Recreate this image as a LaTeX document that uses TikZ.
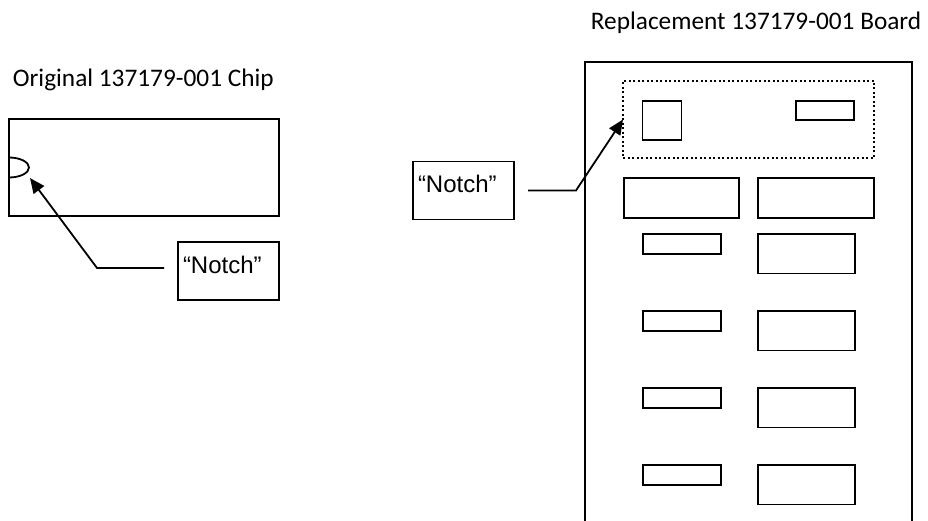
\documentclass[tikz,border=0pt]{standalone}
\usepackage{fontspec}
\setmainfont{Liberation Sans}
\newfontfamily\titlefont{Carlito}
\usetikzlibrary{arrows.meta}

\newcommand{\titlesize}{\titlefont\fontsize{25.3}{30}\selectfont}

\begin{document}
\begin{tikzpicture}[x=1pt, y=-1pt, line width=1.8pt,
    part/.style={draw, rectangle, inner sep=0pt, outer sep=0pt},
    callout/.style={draw, rectangle, inner xsep=5pt, inner ysep=0pt,
        outer sep=0pt, text width=91pt, align=left,
        text height=31pt, text depth=27pt, font=\fontsize{24}{28}\selectfont},
    pointer/.style={-{Triangle[length=15pt, width=13pt]}, line join=miter},
    title/.style={anchor=base west, inner sep=0pt, font=\titlesize}]
    \useasboundingbox (0,0) rectangle (928,521);

    % original chip
    \node[title] (chiptitle) at (12,87) {Original 137179-001 Chip};
    \node[part, minimum width=270pt, minimum height=97pt] (chip)
        at (144,167.5) {};
    \draw (chip.west) ++(0,-10)
        arc[start angle=90, end angle=-90, x radius=20pt, y radius=10pt];
    \coordinate (notchtip) at (30,178);
    \node[callout] (lnote) at (228.5,271) {“Notch”};
    \draw[pointer] ([xshift=-14pt, yshift=3pt]lnote.west) -- ++(-67,0)
        -- (notchtip);

    % replacement board
    \node[title] (boardtitle) at (590,30) {Replacement 137179-001 Board};
    \draw (585,521) -- (585,62) -- (912,62) -- (912,521);
    \node[part, dash pattern=on 2pt off 2.5pt, minimum width=251pt,
        minimum height=77pt] (group) at (748.5,119.5) {};
    \node[part, minimum width=39pt, minimum height=39pt] (square)
        at (662,120.5) {};
    \node[part, minimum width=58pt, minimum height=19pt] (cap)
        at (825,110.5) {};
    \node[part, minimum width=115pt, minimum height=40pt] (wideleft)
        at (681.5,198) {};
    \node[part, minimum width=116pt, minimum height=40pt] (wideright)
        at (816,198) {};
    \foreach \i/\top in {1/234, 2/311, 3/388, 4/465}{
        \node[part, minimum width=78pt, minimum height=20pt] (small\i)
            at (682,\top+10) {};
        \node[part, minimum width=97pt, minimum height=39.5pt] (big\i)
            at (806.5,\top+19.75) {};
    }
    \node[callout] (rnote) at (463.5,190.5) {“Notch”};
    \draw[pointer] ([xshift=14pt]rnote.east) -- ++(48,0) -- (group.west);
\end{tikzpicture}
\end{document}
